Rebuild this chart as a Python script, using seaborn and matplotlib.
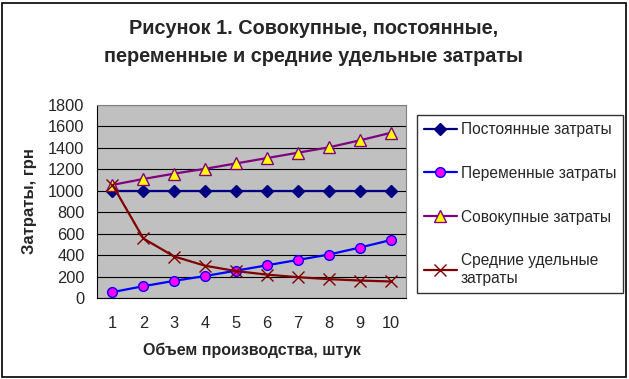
import matplotlib
matplotlib.use("Agg")
import matplotlib.pyplot as plt
import seaborn as sns
import pandas as pd
from matplotlib.patches import Rectangle

units = [1, 2, 3, 4, 5, 6, 7, 8, 9, 10]
fixed_costs = [1000, 1000, 1000, 1000, 1000, 1000, 1000, 1000, 1000, 1000]
variable_costs = [55, 110, 160, 205, 255, 305, 355, 405, 470, 540]
total_costs = [1055, 1110, 1160, 1205, 1255, 1305, 1355, 1405, 1470, 1540]
average_costs = [1055, 555, 387, 301, 251, 218, 194, 176, 163, 154]
labels = ["Постоянные затраты", "Переменные затраты", "Совокупные затраты",
          "Средние удельные\nзатраты"]
y_ticks = [0, 200, 400, 600, 800, 1000, 1200, 1400, 1600, 1800]

sns.set_theme(style="white")
plt.rcParams['font.family'] = ['Liberation Sans', 'DejaVu Sans']

W, H = 629, 379
fig = plt.figure(figsize=(W / 100, H / 100), dpi=100)
fig.patch.set_facecolor("white")
fig.patches.append(Rectangle((2 / W, 2 / H), (W - 5) / W, (H - 5) / H,
                             transform=fig.transFigure, fill=False,
                             edgecolor="black", linewidth=1.2))

# axes in pixel coords
left, right, top, bottom = 97, 406, 105, 298
ax = fig.add_axes([left / W, 1 - bottom / H, (right - left) / W, (bottom - top) / H])
ax.set_facecolor("#C0C0C0")

df = pd.DataFrame({"x": units, "fixed": fixed_costs, "var": variable_costs,
                   "tot": total_costs, "avg": average_costs})

styles = [
    ("fixed", "#000080", "D", "#000080", "#000080", 6),
    ("var", "#0000FF", "o", "#FF00FF", "#0000FF", 7),
    ("tot", "#800080", "^", "#FFFF00", "#800080", 9),
    ("avg", "#800000", "x", "#800000", "#800000", 8),
]
for (col, lc, m, mfc, mec, ms), lab in zip(styles, labels):
    sns.lineplot(data=df, x="x", y=col, ax=ax, color=lc, marker=m,
                 markerfacecolor=mfc, markeredgecolor=mec, markersize=ms,
                 markeredgewidth=1.0, linewidth=1.6, label=lab)

ax.set_xlim(0.5, 10.5)
ax.set_ylim(0, 1800)
ax.set_yticks(y_ticks)
ax.set_yticklabels([str(v) for v in y_ticks], fontsize=11.8)
ax.set_xticks(units)
ax.set_xticklabels([str(u) for u in units], fontsize=11.8)
ax.set_xticks([u + 0.5 for u in [0] + units], minor=True)
ax.tick_params(axis="x", which="major", length=0, pad=13)
ax.tick_params(axis="x", which="minor", length=4, width=0.8, color="black", direction="out")
ax.tick_params(axis="y", which="major", length=7, width=0.8, color="black", direction="out", pad=2)
ax.grid(axis="y", color="black", linewidth=0.8)
ax.set_axisbelow(True)
for s in ["top", "right"]:
    ax.spines[s].set_color("#808080")
    ax.spines[s].set_linewidth(0.8)
for s in ["left", "bottom"]:
    ax.spines[s].set_color("black")
    ax.spines[s].set_linewidth(0.8)

ax.set_xlabel("Объем производства, штук", fontsize=11.5, fontweight="bold", labelpad=8)
ax.set_ylabel("Затраты, грн", fontsize=12, fontweight="bold", labelpad=6)
ax.yaxis.set_label_coords((37 - left) / (right - left), 0.5)

cx = 313.5 / W
fig.text(cx, 1 - 28 / H, "Рисунок 1. Совокупные, постоянные,",
         ha="center", va="center", fontsize=14.3, fontweight="bold")
fig.text(cx, 1 - 56 / H, "переменные и средние удельные затраты",
         ha="center", va="center", fontsize=14.3, fontweight="bold")

handles, labs = ax.get_legend_handles_labels()
ax.get_legend().remove()
leg = fig.legend(handles, labs, loc="upper left",
                 bbox_to_anchor=(417 / W, 1 - 115 / H), fontsize=11.2,
                 frameon=True, fancybox=False, edgecolor="black",
                 labelspacing=1.85, handlelength=2.1, handletextpad=0.25,
                 borderpad=0.45, borderaxespad=0)
leg.get_frame().set_linewidth(1.0)

fig.savefig("out.png", dpi=100)
